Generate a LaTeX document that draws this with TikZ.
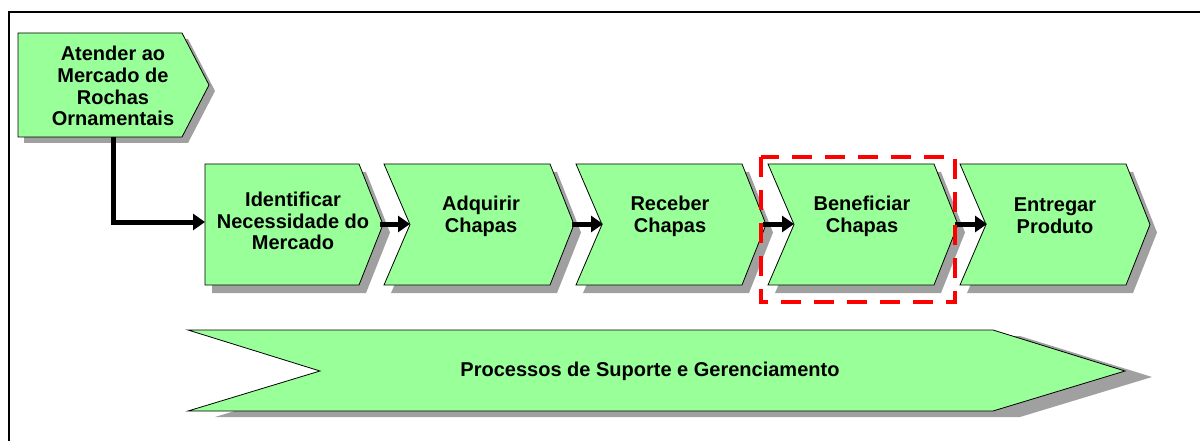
\documentclass[tikz,border=0pt]{standalone}
\usepackage{fontspec}
\setmainfont{Liberation Sans}
\usetikzlibrary{arrows.meta}
\definecolor{boxgreen}{HTML}{99FF99}
\definecolor{shadowgray}{HTML}{A0A0A0}
\tikzset{
  shapefill/.style={fill=boxgreen, draw=black, line width=0.8pt},
  shadowfill/.style={fill=shadowgray, draw=none},
  label/.style={font=\bfseries\fontsize{20}{21.8}\selectfont, align=center, inner sep=0pt},
  flow/.style={line width=5pt, -{Triangle[length=12pt,width=16pt]}},
  highlight/.style={draw=red, line width=4.2pt, dash pattern=on 20pt off 13pt},
  frame/.style={draw=black, line width=2pt}
}
\newcommand\chevpath[1]{(#1,164) -- ++(166,0) -- ++(24,60.5) -- ++(-24,60.5) -- ++(-166,0) -- ++(26,-60.5) -- cycle}
\begin{document}
\begin{tikzpicture}[x=1pt,y=-1pt]
\useasboundingbox (0,0) rectangle (1200,441);
\fill[white] (0,0) rectangle (1200,441);
% frame
\draw[frame] (1210,12.5) -- (8.5,12.5) -- (8.5,450);

% top-left shape
\fill[shadowfill, shift={(6,6)}] (18,33) -- (182,33) -- (209,85) -- (182,137) -- (18,137) -- cycle;
\draw[shapefill] (18,33) -- (182,33) -- (209,85) -- (182,137) -- (18,137) -- cycle;
\node[label] (atender) at (113,86) {Atender ao\\Mercado de\\Rochas\\Ornamentais};
\coordinate (atenderbottom) at (113,137);

% Identificar
\fill[shadowfill, shift={(7,8)}] (205,164) -- (359,164) -- (383,224.5) -- (359,285) -- (205,285) -- cycle;
\draw[shapefill] (205,164) -- (359,164) -- (383,224.5) -- (359,285) -- (205,285) -- cycle;
\node[label] (ident) at (293,221) {Identificar\\Necessidade do\\Mercado};
\coordinate (identin) at (205,222);
\coordinate (identout) at (380,224);

% chevrons shadows
\foreach \L in {384,576,768,960} {
  \fill[shadowfill, shift={(7,8)}] \chevpath{\L};
}
\foreach \L in {384,576,768,960} {
  \draw[shapefill] \chevpath{\L};
}
\node[label] (adq) at (481,216) {Adquirir\\Chapas};
\node[label] (rec) at (670,216) {Receber\\Chapas};
\node[label] (ben) at (862,216) {Beneficiar\\Chapas};
\node[label] (ent) at (1055,216) {Entregar\\Produto};
\coordinate (adqin) at (410,224);
\coordinate (adqout) at (572,224);
\coordinate (recin) at (603,224);
\coordinate (recout) at (763,224);
\coordinate (benin) at (794,224);
\coordinate (benout) at (955,224);
\coordinate (entin) at (987,224);

% connectors
\draw[flow] (atenderbottom) |- (identin);
\draw[flow] (identout) -- (adqin);
\draw[flow] (adqout) -- (recin);
\draw[flow] (recout) -- (benin);
\draw[flow] (benout) -- (entin);

% highlight
\draw[highlight] (761,157) rectangle (955,302);

% support process band
\fill[shadowfill, shift={(27,6)}] (188,330) -- (993,330) -- (1125,371) -- (993,411) -- (188,411) -- (320,371) -- cycle;
\draw[shapefill] (188,330) -- (993,330) -- (1125,371) -- (993,411) -- (188,411) -- (320,371) -- cycle;
\node[label] (sup) at (650,371) {Processos de Suporte e Gerenciamento};
\end{tikzpicture}
\end{document}
